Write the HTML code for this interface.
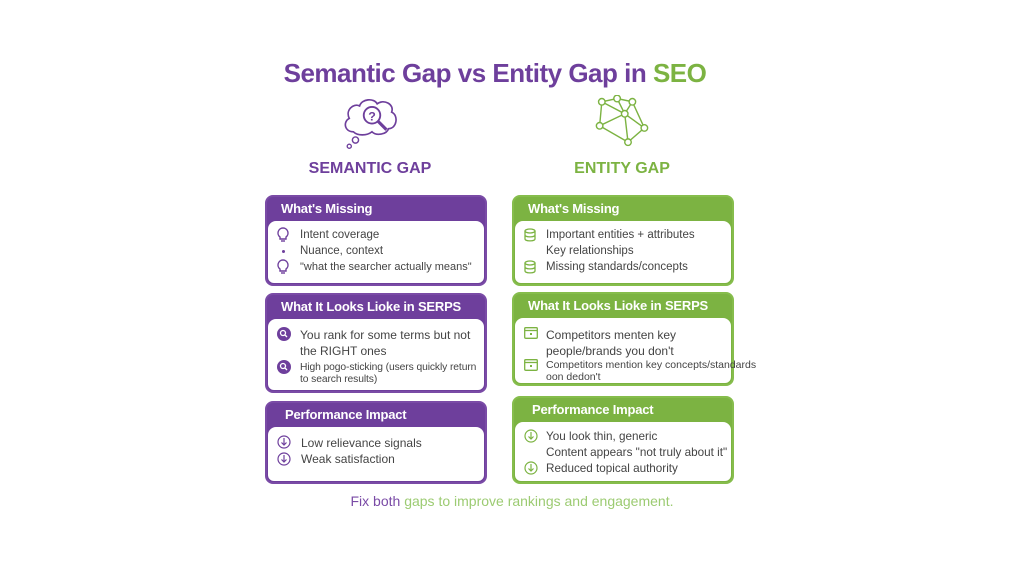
<!DOCTYPE html>
<html><head><meta charset="utf-8"><style>
*{margin:0;padding:0;box-sizing:border-box}
body{width:1024px;height:576px;background:#fff;position:relative;overflow:hidden;font-family:"Liberation Sans",Arial,sans-serif;color:#3a3a3a}
.a{position:absolute}
.title{left:0;width:990px;top:58px;text-align:center;font-size:26px;font-weight:bold;color:#6e3f9c;letter-spacing:-0.5px}
.sub{font-size:16px;font-weight:bold;text-align:center;width:240px}
.box{position:absolute;border-radius:8px;border:2px solid}
.p{background:#6e3f9c;border-color:#7a4ba6}
.g{background:#7cb342;border-color:#86bd4c}
.hd{color:#fff;font-weight:bold;font-size:13px;padding:4px 0 0 14px;height:24px;letter-spacing:-0.2px}
.bd{position:absolute;left:1px;right:1px;bottom:1px;top:24px;background:#fff;border-radius:8px 8px 6px 6px}
.it{position:absolute;font-size:11.5px;color:#444;line-height:14px}
.ic{position:absolute}
</style></head><body>
<div class="a title">Semantic Gap vs Entity Gap in <span style="color:#7cb342">SEO</span></div>

<svg class="a" style="left:341px;top:94px" width="62" height="58" viewBox="0 0 60 55">
<path d="M12 36 C3 36 2 26 8 23 C4 15 12 8 18 11 C20 4 32 3 35 9 C41 4 52 9 49 17 C56 20 54 33 46 33 C44 39 34 40 30 36 C25 40 16 40 12 36Z" fill="none" stroke="#6e3f9c" stroke-width="1.6"/>
<circle cx="30" cy="20" r="8" fill="none" stroke="#6e3f9c" stroke-width="1.8"/>
<text x="30" y="25" font-size="12" font-weight="bold" text-anchor="middle" fill="#6e3f9c" font-family="Liberation Sans">?</text>
<line x1="36" y1="26" x2="44" y2="34" stroke="#6e3f9c" stroke-width="3"/>
<circle cx="14" cy="44" r="3" fill="none" stroke="#6e3f9c" stroke-width="1.4"/>
<circle cx="8" cy="50" r="2" fill="none" stroke="#6e3f9c" stroke-width="1.3"/>
</svg>
<svg class="a" style="left:592px;top:95px" width="60" height="55" viewBox="0 0 55 50">
<g stroke="#7cb342" stroke-width="1.3" fill="none">
<path d="M9 6 L23 3 L37 6 L30 17 L9 6 M23 3 L30 17 M37 6 L30 17 L48 30 L33 43 L30 17 L7 28 L9 6 M37 6 L48 30 M7 28 L33 43"/>
</g>
<g fill="#fff" stroke="#7cb342" stroke-width="1.3">
<circle cx="9" cy="6" r="3"/><circle cx="23" cy="3" r="3"/><circle cx="37" cy="6" r="3"/><circle cx="30" cy="17" r="3"/><circle cx="7" cy="28" r="3"/><circle cx="48" cy="30" r="3"/><circle cx="33" cy="43" r="3"/>
</g></svg>

<div class="a sub" style="left:250px;top:160px;color:#6e3f9c">SEMANTIC GAP</div>
<div class="a sub" style="left:502px;top:160px;color:#7cb342">ENTITY GAP</div>

<div class="box p" style="left:265px;top:195px;width:222px;height:91px"><div class="hd">What's Missing</div><div class="bd"></div></div>
<div class="box p" style="left:265px;top:293px;width:222px;height:100px"><div class="hd">What It Looks Lioke in SERPS</div><div class="bd"></div></div>
<div class="box p" style="left:265px;top:401px;width:222px;height:83px"><div class="hd" style="padding-left:18px">Performance Impact</div><div class="bd"></div></div>

<div class="it" style="left:300px;top:228px">Intent coverage</div>
<div class="it" style="left:300px;top:244px">Nuance, context</div>
<div class="it" style="left:300px;top:260px;font-size:11px">"what the searcher actually means"</div>
<svg class="ic" style="left:277px;top:227px" width="12" height="16"><path d="M6 1a5 5 0 0 0-3 9v2h6v-2a5 5 0 0 0-3-9z" fill="none" stroke="#6e3f9c" stroke-width="1.4"/><line x1="4" y1="14" x2="8" y2="14" stroke="#6e3f9c" stroke-width="1.4"/></svg>
<div class="ic" style="left:282px;top:250px;width:3px;height:3px;border-radius:50%;background:#6e3f9c"></div>
<svg class="ic" style="left:277px;top:259px" width="12" height="16"><path d="M6 1a5 5 0 0 0-3 9v2h6v-2a5 5 0 0 0-3-9z" fill="none" stroke="#6e3f9c" stroke-width="1.4"/><line x1="4" y1="14" x2="8" y2="14" stroke="#6e3f9c" stroke-width="1.4"/></svg>

<div class="it" style="left:300px;top:327px;font-size:12px;line-height:16px">You rank for some terms but not<br>the RIGHT ones</div>
<div class="it" style="left:300px;top:362px;font-size:10.3px;line-height:12px;letter-spacing:-0.1px">High pogo-sticking (users quickly return<br>to search results)</div>
<svg class="ic" style="left:277px;top:327px" width="14" height="14"><circle cx="7" cy="7" r="7" fill="#6e3f9c"/><circle cx="6" cy="6" r="2.5" fill="none" stroke="#fff" stroke-width="1.3"/><line x1="8" y1="8" x2="10" y2="10" stroke="#fff" stroke-width="1.3"/></svg>
<svg class="ic" style="left:277px;top:360px" width="14" height="14"><circle cx="7" cy="7" r="7" fill="#6e3f9c"/><circle cx="6" cy="6" r="2.5" fill="none" stroke="#fff" stroke-width="1.3"/><line x1="8" y1="8" x2="10" y2="10" stroke="#fff" stroke-width="1.3"/></svg>

<div class="it" style="left:301px;top:436px;font-size:12px">Low relievance signals</div>
<div class="it" style="left:301px;top:452px;font-size:12px">Weak satisfaction</div>
<svg class="ic" style="left:277px;top:435px" width="14" height="14"><circle cx="7" cy="7" r="6" fill="none" stroke="#6e3f9c" stroke-width="1.2"/><path d="M7 3v7M4.5 7.5L7 10l2.5-2.5" fill="none" stroke="#6e3f9c" stroke-width="1.2"/></svg>
<svg class="ic" style="left:277px;top:452px" width="14" height="14"><circle cx="7" cy="7" r="6" fill="none" stroke="#6e3f9c" stroke-width="1.2"/><path d="M7 3v7M4.5 7.5L7 10l2.5-2.5" fill="none" stroke="#6e3f9c" stroke-width="1.2"/></svg>

<div class="box g" style="left:512px;top:195px;width:222px;height:91px"><div class="hd">What's Missing</div><div class="bd"></div></div>
<div class="box g" style="left:512px;top:292px;width:222px;height:94px"><div class="hd">What It Looks Lioke in SERPS</div><div class="bd"></div></div>
<div class="box g" style="left:512px;top:396px;width:222px;height:88px"><div class="hd" style="padding-left:18px">Performance Impact</div><div class="bd"></div></div>

<div class="it" style="left:546px;top:228px">Important entities + attributes</div>
<div class="it" style="left:546px;top:244px">Key relationships</div>
<div class="it" style="left:546px;top:260px">Missing standards/concepts</div>
<svg class="ic" style="left:524px;top:228px" width="12" height="14"><g fill="none" stroke="#7cb342" stroke-width="1.3"><ellipse cx="6" cy="3" rx="5" ry="2"/><path d="M1 3v8c0 2.5 10 2.5 10 0V3M1 7c0 2.5 10 2.5 10 0"/></g></svg>
<svg class="ic" style="left:524px;top:260px" width="12" height="14"><g fill="none" stroke="#7cb342" stroke-width="1.3"><ellipse cx="6" cy="3" rx="5" ry="2"/><path d="M1 3v8c0 2.5 10 2.5 10 0V3M1 7c0 2.5 10 2.5 10 0"/></g></svg>

<div class="it" style="left:546px;top:327px;font-size:12px;line-height:16px">Competitors menten key<br>people/brands you don't</div>
<div class="it" style="left:546px;top:359px;font-size:10.5px;line-height:12px">Competitors mention key concepts/standards<br>oon dedon't</div>
<svg class="ic" style="left:524px;top:327px" width="14" height="12"><rect x="0.7" y="0.7" width="12.6" height="10.6" rx="1" fill="none" stroke="#7cb342" stroke-width="1.3"/><line x1="1" y1="3.5" x2="13" y2="3.5" stroke="#7cb342" stroke-width="1.3"/><rect x="6" y="6" width="2" height="2" fill="#7cb342"/></svg>
<svg class="ic" style="left:524px;top:359px" width="14" height="12"><rect x="0.7" y="0.7" width="12.6" height="10.6" rx="1" fill="none" stroke="#7cb342" stroke-width="1.3"/><line x1="1" y1="3.5" x2="13" y2="3.5" stroke="#7cb342" stroke-width="1.3"/><rect x="6" y="6" width="2" height="2" fill="#7cb342"/></svg>

<div class="it" style="left:546px;top:429px;font-size:11.7px;line-height:16px">You look thin, generic<br>Content appears "not truly about it"<br>Reduced topical authority</div>
<svg class="ic" style="left:524px;top:429px" width="14" height="14"><circle cx="7" cy="7" r="6" fill="none" stroke="#7cb342" stroke-width="1.2"/><path d="M7 3v7M4.5 7.5L7 10l2.5-2.5" fill="none" stroke="#7cb342" stroke-width="1.2"/></svg>
<svg class="ic" style="left:524px;top:461px" width="14" height="14"><circle cx="7" cy="7" r="6" fill="none" stroke="#7cb342" stroke-width="1.2"/><path d="M7 3v7M4.5 7.5L7 10l2.5-2.5" fill="none" stroke="#7cb342" stroke-width="1.2"/></svg>

<div class="a" style="left:0;width:1024px;top:493px;text-align:center;font-size:14px;color:#9ccb72"><span style="color:#7a4ba6">Fix both</span> gaps to improve rankings and engagement.</div>
</body></html>
